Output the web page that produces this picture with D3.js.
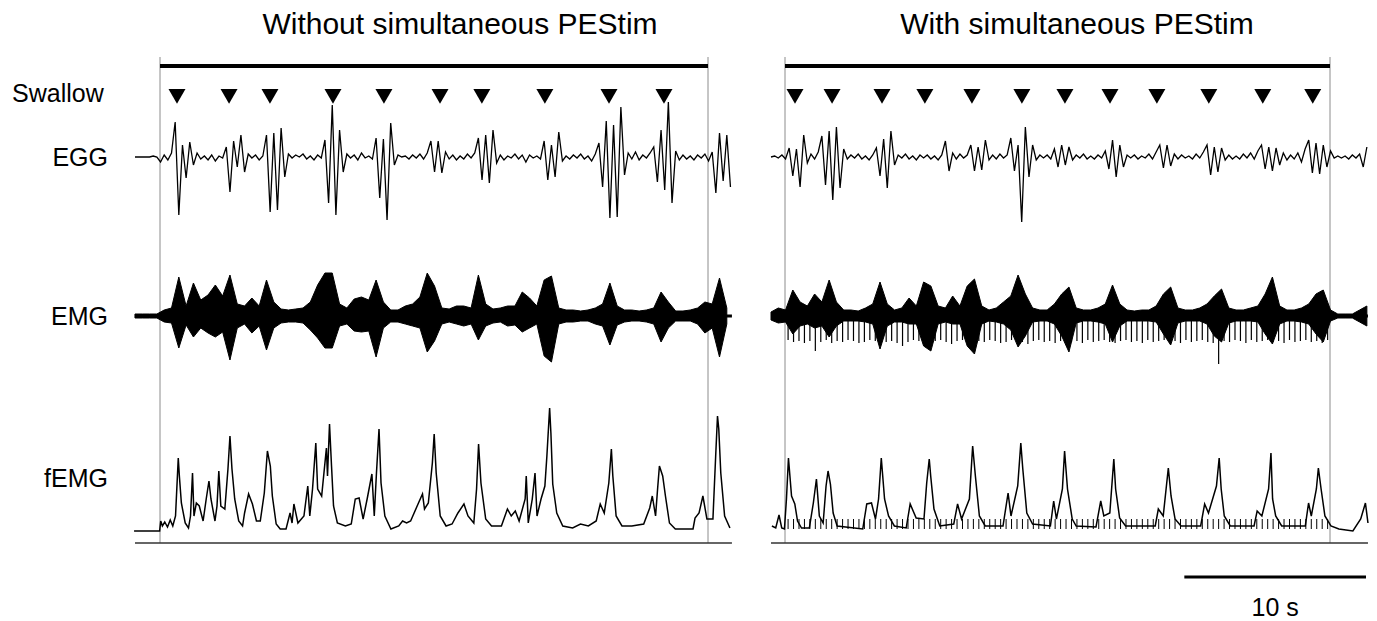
<!DOCTYPE html>
<html>
<head>
<meta charset="utf-8">
<script src="https://cdn.jsdelivr.net/npm/d3@7"></script>
<style>
  body { margin: 0; background: #fff; }
  text { font-family: "Liberation Sans", Arial, sans-serif; fill: #000; }
</style>
</head>
<body>
<div id="vis-container"></div>
<script>
// ---- data (time in s from the start of the marked 30 s window, amplitude in a.u.) ----
const swallowWithout = [0.93, 3.78, 6.02, 9.47, 12.26, 15.33, 17.62, 21.07, 24.58, 27.59];
const swallowWith = [0.55, 2.59, 5.34, 7.70, 10.29, 13.04, 15.41, 17.89, 20.47, 23.33, 26.30, 29.05];

// EGG, sampled every 0.2 s
const eggWithout = [
  0,0,0,0,0,1,0,-5,2,-3,
  4,35,-58,12,-21,15,-8,4,-2,1,
  -3,2,-4,1,-1,10,-35,16,-10,22,
  -15,3,-1,2,-3,1,22,-55,24,-53,
  29,-20,3,-1,2,0,3,-2,1,-3,
  2,-1,17,-46,52,-58,27,-15,3,-1,
  2,-3,4,-1,1,-2,19,-41,18,-63,
  34,-8,2,0,1,-2,2,-1,3,-2,
  4,16,-15,16,-16,5,-2,2,-3,1,
  -2,3,-1,4,19,-23,22,-26,27,-6,
  2,-3,1,-1,3,-2,2,-5,2,-1,
  1,-2,16,-23,12,-20,25,-4,1,-2,
  2,-1,3,-2,1,-4,3,14,-30,36,
  -61,32,-60,50,-18,4,-2,5,-3,2,
  -1,4,10,-25,27,-33,55,-46,6,-3,
  2,-2,1,-3,2,-1,3,-4,5,-36,
  24,-24,22,-30
];
const eggWith = [
  0,1,-1,2,-2,9,-19,8,-30,22,
  -6,3,-2,5,21,-28,26,-43,30,-31,
  8,-2,2,-1,3,-2,1,-3,2,9,
  -19,18,-31,26,-8,2,-1,3,-2,1,
  -3,2,-1,2,-2,1,-3,2,16,-14,
  4,-2,3,-1,2,12,-14,10,-13,17,
  -3,2,-2,3,-1,2,19,-14,12,-65,
  30,-20,12,-3,2,-1,2,-2,8,-10,
  12,-8,10,-3,2,-1,3,-2,1,-2,
  2,-1,6,-12,17,-20,12,-10,2,-1,
  2,-2,1,-1,3,-2,5,12,-11,12,
  -9,3,-2,2,-1,1,-2,3,-1,5,
  12,-18,10,-15,9,-3,2,-2,1,-2,
  3,-1,4,-2,6,12,-12,10,-14,9,
  -8,4,-3,2,-2,4,-5,8,17,-16,
  14,-17,12,-10,6,-1,1,-1,1,-2,
  2,-1,3,-10,10
];

// EMG envelope (upper / lower), every 0.4 s
const emgHiWithout = [
  2,2,2,2,6,8,39,10,33,16,
  21,31,20,41,12,10,18,10,36,14,
  7,6,7,8,14,31,43,43,12,8,
  17,19,16,36,14,6,6,10,12,19,
  43,30,8,7,10,10,8,41,12,7,
  8,10,10,24,18,10,36,40,8,6,
  6,5,6,8,12,33,10,6,6,5,
  6,8,24,14,5,5,6,8,14,12,
  38,8
];
const emgLoWithout = [
  -2,-2,-2,-2,-6,-7,-32,-9,-21,-12,
  -17,-21,-16,-44,-12,-8,-17,-10,-34,-12,
  -7,-6,-6,-7,-14,-22,-32,-32,-10,-8,
  -15,-16,-15,-41,-12,-6,-6,-8,-10,-12,
  -36,-25,-8,-6,-8,-10,-8,-24,-10,-7,
  -6,-10,-9,-16,-12,-8,-40,-46,-8,-6,
  -6,-5,-5,-8,-10,-29,-9,-6,-5,-5,
  -6,-8,-26,-12,-5,-5,-5,-8,-17,-12,
  -41,-8
];
const emgHiWith = [
  4,8,6,26,14,10,22,14,36,14,
  6,6,5,8,12,34,12,6,8,18,
  10,34,30,10,8,20,10,30,37,10,
  6,8,14,20,41,22,8,6,6,12,
  22,29,8,6,6,8,12,31,12,6,
  5,6,6,10,22,29,8,6,6,8,
  12,20,27,8,6,6,8,10,22,39,
  10,6,6,8,12,22,26,6,2,2,
  2,6,10
];
const emgLoWith = [
  -4,-7,-6,-18,-10,-8,-12,-10,-21,-10,
  -5,-5,-5,-6,-8,-33,-10,-6,-6,-8,
  -8,-30,-35,-8,-6,-8,-8,-30,-38,-8,
  -5,-6,-8,-14,-31,-20,-6,-5,-5,-8,
  -20,-36,-7,-5,-5,-6,-8,-26,-10,-5,
  -5,-5,-5,-6,-18,-29,-7,-5,-5,-5,
  -8,-20,-26,-7,-5,-5,-5,-6,-18,-28,
  -8,-5,-5,-6,-8,-18,-26,-5,-2,-2,
  -2,-6,-10
];

// stimulation artefacts in the EMG (depth of each pulse), one every 0.3 s
const stimDepth = [
  24,26,25,27,25,35,26,24,27,25,
  26,24,25,27,26,24,25,28,26,25,
  27,30,26,24,25,26,27,25,24,26,
  28,25,24,26,27,25,26,24,25,27,
  26,24,25,26,28,25,24,26,25,27,
  25,24,26,25,27,24,26,25,24,26,
  27,25,24,26,25,27,24,26,25,24,
  26,25,27,24,26,25,24,26,27,48,
  25,26,24,25,27,24,26,25,24,26,
  25,27,24,26,25,24,26,25,27,24
];

// filtered EMG, vertices of the trace
const femgTimeWithout = [
  -1.42,-0.02,0.04,0.13,0.26,0.41,0.56,0.70,0.85,1.00,1.06,1.17,1.38,1.56,1.67,1.78,1.86,1.99,2.15,2.36,
  2.53,2.68,2.79,3.01,3.12,3.22,3.33,3.55,3.72,3.83,3.94,4.09,4.31,4.52,4.63,4.85,5.06,5.28,5.49,5.71,
  5.88,6.04,6.15,6.36,6.58,6.90,7.12,7.23,7.33,7.55,7.88,8.09,8.20,8.35,8.53,8.63,8.85,9.11,9.17,9.28,
  9.39,9.50,9.71,10.15,10.47,10.69,10.90,11.12,11.34,11.60,11.73,11.85,11.99,12.10,12.31,12.64,13.07,13.28,13.50,13.72,
  14.15,14.37,14.48,14.69,14.91,15.01,15.12,15.34,15.66,15.99,16.31,16.64,16.86,17.18,17.33,17.44,17.57,17.83,18.15,18.69,
  19.02,19.23,19.45,19.66,19.99,20.05,20.16,20.38,20.53,20.64,20.86,21.07,21.18,21.33,21.40,21.50,21.72,22.05,22.59,23.02,
  23.45,23.88,24.10,24.32,24.57,24.71,24.79,24.97,25.29,25.83,26.48,26.81,26.95,27.13,27.24,27.34,27.52,27.67,27.89,28.21,
  29.18,29.29,29.51,29.72,29.94,30.27,30.42,30.52,30.59,30.70,30.91,31.20
];
const femgValWithout = [
  0,0,10,5,9,4,11,5,15,73,55,28,8,3,15,58,15,28,25,10,
  32,50,32,10,25,60,25,22,62,95,62,32,10,5,18,37,27,10,10,38,
  80,65,35,7,2,2,18,8,27,8,15,45,15,42,88,42,35,83,55,107,
  65,25,8,5,7,32,33,12,32,57,15,58,102,48,15,2,5,10,8,10,
  28,37,22,28,68,97,58,15,5,7,18,27,15,8,42,87,48,12,5,5,
  22,15,20,10,32,55,8,32,58,15,32,45,75,123,98,47,18,5,3,7,
  5,10,27,18,48,82,55,15,5,5,7,23,35,15,42,65,55,35,8,2,
  2,13,18,35,12,12,75,115,102,58,15,3
];
const femgTimeWith = [
  -0.72,-0.51,-0.33,-0.18,-0.03,0.08,0.19,0.36,0.54,0.69,0.91,1.34,1.56,1.73,1.89,2.10,2.26,2.37,2.50,2.65,
  2.87,4.28,4.50,4.76,4.98,5.15,5.30,5.48,5.70,6.02,6.67,6.89,7.22,7.65,7.80,7.94,8.02,8.20,8.52,9.29,
  9.50,9.72,10.15,10.33,10.48,10.70,11.02,12.00,12.28,12.44,12.81,12.98,13.09,13.31,13.63,14.61,14.79,14.94,15.27,15.39,
  15.55,15.81,16.03,17.12,17.38,17.55,17.88,18.10,18.20,18.42,18.75,20.38,20.55,20.82,21.10,21.25,21.47,21.80,22.88,23.10,
  23.31,23.75,23.90,24.01,24.18,24.51,25.82,25.99,26.25,26.62,26.75,26.84,27.01,27.34,28.64,28.82,28.97,29.25,29.36,29.51,
  29.72,30.05,30.49,31.26,31.69,31.95,32.09
];
const femgValWith = [
  5,3,16,3,2,32,73,35,27,10,3,3,28,52,15,8,45,60,47,18,
  5,2,27,28,12,32,73,32,15,5,3,27,13,12,48,72,55,22,5,7,
  27,12,32,85,55,15,5,5,38,15,45,88,62,18,7,5,30,12,42,80,
  42,12,5,4,30,15,18,72,42,13,5,5,22,15,63,35,12,5,5,27,
  18,45,73,42,15,5,5,20,15,42,78,32,15,5,5,28,15,42,63,42,
  15,5,2,0,12,28,8
];

// ---- layout ----
const width = 1377;
const height = 621;
const eggBase = 157, emgBase = 316, femgBase = 531;
const topBarY = 66, bottomY = 543;

const panels = [
  { title: "Without simultaneous PEStim", titleX: 460, frame: [160, 708], span: [-1.37, 31.31],
    swallow: swallowWithout, egg: eggWithout, eggStart: -1.37,
    emgHi: emgHiWithout, emgLo: emgLoWithout, emgStart: -1.37,
    femgT: femgTimeWithout, femgV: femgValWithout, stim: false },
  { title: "With simultaneous PEStim", titleX: 1077, frame: [785, 1330], span: [-0.77, 32.09],
    swallow: swallowWith, egg: eggWith, eggStart: -0.77,
    emgHi: emgHiWith, emgLo: emgLoWith, emgStart: -0.77,
    femgT: femgTimeWith, femgV: femgValWith, stim: true }
];

const svg = d3.select("#vis-container")
  .append("svg")
  .attr("width", width)
  .attr("height", height);

// amplitude scales (1 a.u. = 1 px)
const yEgg = d3.scaleLinear().domain([-100, 100]).range([eggBase + 100, eggBase - 100]);
const yEmg = d3.scaleLinear().domain([-100, 100]).range([emgBase + 100, emgBase - 100]);
const yFemg = d3.scaleLinear().domain([0, 200]).range([femgBase, femgBase - 200]);

panels.forEach((p) => {
  const x = d3.scaleLinear().domain([0, 30]).range(p.frame);
  const g = svg.append("g");

  // title
  g.append("text")
    .attr("x", p.titleX)
    .attr("y", 34)
    .attr("text-anchor", "middle")
    .attr("font-size", "30px")
    .text(p.title);

  // thin frame lines marking the 30 s window
  g.selectAll(".frame")
    .data([0, 30])
    .enter()
    .append("line")
      .attr("x1", (d) => x(d))
      .attr("x2", (d) => x(d))
      .attr("y1", 57)
      .attr("y2", bottomY)
      .attr("stroke", "#8c8c8c")
      .attr("stroke-width", 1);

  // thick bar on top
  g.append("line")
    .attr("x1", x(0)).attr("x2", x(30))
    .attr("y1", topBarY).attr("y2", topBarY)
    .attr("stroke", "#000")
    .attr("stroke-width", 4);

  // bottom line
  g.append("line")
    .attr("x1", x(p.span[0])).attr("x2", x(p.span[1]))
    .attr("y1", bottomY).attr("y2", bottomY)
    .attr("stroke", "#333")
    .attr("stroke-width", 1.5);

  // swallow markers
  g.selectAll(".swallow")
    .data(p.swallow)
    .enter()
    .append("path")
      .attr("d", d3.symbol().type(d3.symbolTriangle).size(125))
      .attr("transform", (d) => `translate(${x(d)},94) rotate(180)`)
      .attr("fill", "#000");

  // EMG bursts as a filled envelope
  const emgArea = d3.area()
    .x((d, i) => x(p.emgStart + i * 0.4))
    .y0((d, i) => yEmg(p.emgLo[i]))
    .y1((d) => yEmg(d));
  g.append("path")
    .datum(p.emgHi)
    .attr("d", emgArea)
    .attr("fill", "#000")
    .attr("stroke", "#000")
    .attr("stroke-width", 1);

  // EMG baseline
  g.append("line")
    .attr("x1", x(p.span[0])).attr("x2", x(p.span[1]))
    .attr("y1", yEmg(0)).attr("y2", yEmg(0))
    .attr("stroke", "#000")
    .attr("stroke-width", 3);

  // stimulation artefacts
  if (p.stim) {
    g.selectAll(".stim")
      .data(stimDepth)
      .enter()
      .append("line")
        .attr("x1", (d, i) => x(0.17 + i * 0.3))
        .attr("x2", (d, i) => x(0.17 + i * 0.3))
        .attr("y1", yEmg(0))
        .attr("y2", (d) => yEmg(-d))
        .attr("stroke", "#000")
        .attr("stroke-width", 1.2);

    g.selectAll(".stimF")
      .data(stimDepth)
      .enter()
      .append("line")
        .attr("x1", (d, i) => x(0.17 + i * 0.3))
        .attr("x2", (d, i) => x(0.17 + i * 0.3))
        .attr("y1", yFemg(2))
        .attr("y2", yFemg(12))
        .attr("stroke", "#000")
        .attr("stroke-width", 1);
  }

  // EGG trace
  const eggLine = d3.line()
    .x((d, i) => x(p.eggStart + i * 0.2))
    .y((d) => yEgg(d));
  g.append("path")
    .datum(p.egg)
    .attr("d", eggLine)
    .attr("fill", "none")
    .attr("stroke", "#000")
    .attr("stroke-width", 1.3);

  // fEMG trace
  const femgLine = d3.line()
    .x((d) => x(d[0]))
    .y((d) => yFemg(d[1]));
  g.append("path")
    .datum(p.femgT.map((t, i) => [t, p.femgV[i]]))
    .attr("d", femgLine)
    .attr("fill", "none")
    .attr("stroke", "#000")
    .attr("stroke-width", 1.5);
});

// row labels
const labels = svg.append("g").attr("font-size", "25px");
labels.append("text").attr("x", 12).attr("y", 102).text("Swallow");
labels.append("text").attr("x", 108).attr("y", 166).attr("text-anchor", "end").text("EGG");
labels.append("text").attr("x", 108).attr("y", 325).attr("text-anchor", "end").text("EMG");
labels.append("text").attr("x", 108).attr("y", 487).attr("text-anchor", "end").text("fEMG");

// 10 s scale bar
const xs = d3.scaleLinear().domain([0, 30]).range(panels[1].frame);
const barLen = xs(10) - xs(0);
svg.append("line")
  .attr("x1", 1366 - barLen).attr("x2", 1366)
  .attr("y1", 577).attr("y2", 577)
  .attr("stroke", "#000")
  .attr("stroke-width", 3);
svg.append("text")
  .attr("x", 1366 - barLen / 2)
  .attr("y", 616)
  .attr("text-anchor", "middle")
  .attr("font-size", "25px")
  .text("10 s");
</script>
</body>
</html>
